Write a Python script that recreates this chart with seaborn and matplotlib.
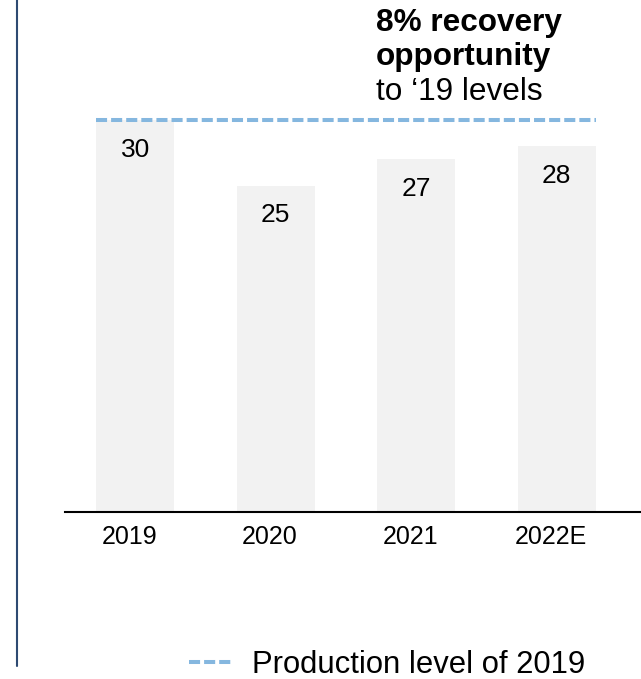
import matplotlib
matplotlib.use("Agg")
import matplotlib.pyplot as plt
import matplotlib.transforms as mtransforms
import seaborn as sns
import pandas as pd
from matplotlib.lines import Line2D

years = ["2019", "2020", "2021", "2022E"]
production = [30, 25, 27, 28]
reference_level = 30
legend_label = "Production level of 2019"
note_bold = ["8% recovery", "opportunity"]
note_regular = "to \u201819 levels"

sns.set_theme(style="white")
plt.rcParams["font.family"] = ["Liberation Sans", "DejaVu Sans"]
plt.rcParams["text.color"] = "black"

df = pd.DataFrame({"year": years, "value": production})

W, H = 641, 679
fig = plt.figure(figsize=(W / 100, H / 100), dpi=100)
# axes: left 65px, right 641px, baseline at 512px, top at 55px
ax = fig.add_axes([65 / W, 1 - 512 / H, (641 - 65) / W, (512 - 55) / H])

bar_w = 0.555
sns.barplot(data=df, x="year", y="value", color="#f2f2f2", width=bar_w,
            saturation=1, ax=ax, errorbar=None)
for p in ax.patches:
    p.set_edgecolor("none")

ax.set_xlim(-0.5, 3.6)
ax.set_ylim(0, 35)

for i, v in enumerate(production):
    ax.annotate(f"{v}", xy=(i, v), xytext=(0, -21.5), textcoords="offset points",
                ha="center", va="center", fontsize=19, color="black")

ax.hlines(reference_level, -bar_w / 2, len(years) - 1 + bar_w / 2,
          colors="#85b7df", linewidth=2.9,
          linestyles=[(0, (2.75, 1.0))], zorder=3)

for s in ["left", "right", "top"]:
    ax.spines[s].set_visible(False)
ax.spines["bottom"].set_color("black")
ax.spines["bottom"].set_linewidth(1.5)
ax.set_yticks([])
ax.set_xlabel("")
ax.set_ylabel("")
ax.tick_params(axis="x", length=0, pad=9, labelsize=18, labelcolor="black")
shift = mtransforms.ScaledTranslation(-6 / 100, 0, fig.dpi_scale_trans)
for lbl in ax.get_xticklabels():
    lbl.set_transform(lbl.get_transform() + shift)

# left vertical rule
fig.add_artist(Line2D([16.5 / W, 16.5 / W], [1 - 666 / H, 1], color="#2e4a72",
                      linewidth=1.5, transform=fig.transFigure))

# annotation
x0 = 376 / W
fs_note = 22.7
fig.text(x0, 1 - 31 / H, note_bold[0], fontsize=fs_note, fontweight="bold",
         va="baseline", ha="left", color="black")
fig.text(x0, 1 - 65 / H, note_bold[1], fontsize=fs_note, fontweight="bold",
         va="baseline", ha="left", color="black")
fig.text(x0, 1 - 100 / H, note_regular, fontsize=fs_note, va="baseline",
         ha="left", color="black")

handle = Line2D([], [], color="#85b7df", linewidth=2.9, linestyle=(0, (2.75, 1.0)))
fig.legend([handle], [legend_label], loc="center left",
           bbox_to_anchor=(189 / W, 1 - 665 / H), frameon=False, fontsize=22.3,
           handlelength=1.42, handletextpad=0.61, borderpad=0, borderaxespad=0,
           labelcolor="black")

fig.savefig("out.png", dpi=100)
